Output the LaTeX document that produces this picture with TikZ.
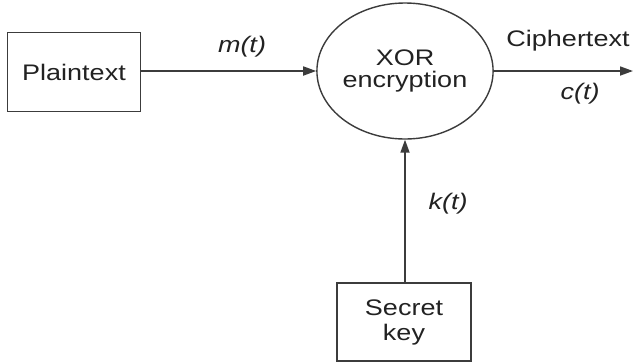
\documentclass[tikz,border=0pt]{standalone}
\usepackage{fontspec}
\setmainfont{Liberation Sans}
\usetikzlibrary{shapes.geometric,arrows.meta}
\definecolor{linec}{HTML}{3C3C3C}
\definecolor{textc}{HTML}{222222}
% Arial-like text, slightly widened
\newcommand{\wtext}[1]{\scalebox{1.2}[1]{#1}}
\tikzset{
  box/.style={draw=linec, line width=1.7bp, rectangle, inner sep=0pt,
    text=textc, align=center, font=\fontsize{22.5bp}{23bp}\selectfont},
  oval/.style={draw=linec, line width=1.4bp, ellipse, inner sep=0pt,
    text=textc, align=center, font=\fontsize{22.5bp}{21bp}\selectfont},
  flow/.style={draw=linec, line width=1.7bp, -{Triangle[length=13bp,width=9bp]}},
  sig/.style={text=textc, font=\fontsize{22.5bp}{24bp}\selectfont\itshape, inner sep=0pt},
  lbl/.style={text=textc, font=\fontsize{22.5bp}{24bp}\selectfont, inner sep=0pt}
}
\begin{document}
\begin{tikzpicture}[x=1bp, y=-1bp]
  \useasboundingbox[fill=white] (0,0) rectangle (633,363);

  \node[box, minimum width=133bp, minimum height=79bp] (plain) at (74,72) {\wtext{Plaintext}};
  \node[oval, minimum width=166bp, minimum height=136bp] (xor) at (405,71)
    {\wtext{XOR}\\[1bp]\wtext{encryption}};
  \node[box, minimum width=134bp, minimum height=78bp] (key) at (404,322)
    {\wtext{Secret}\\[2bp]\wtext{key}};
  \coordinate (out) at (633,71);

  \draw[flow] (plain.east |- xor.west) -- (xor.west);
  \draw[flow] (xor.east) -- (out);
  \draw[flow] (key.north -| xor.south) -- (xor.south);

  \node[sig] (m) at (242,47) {\wtext{m(t)}};
  \node[lbl] (ct) at (568,41) {\wtext{Ciphertext}};
  \node[sig] (c) at (580,94) {\wtext{c(t)}};
  \node[sig] (k) at (448,204) {\wtext{k(t)}};
\end{tikzpicture}
\end{document}
